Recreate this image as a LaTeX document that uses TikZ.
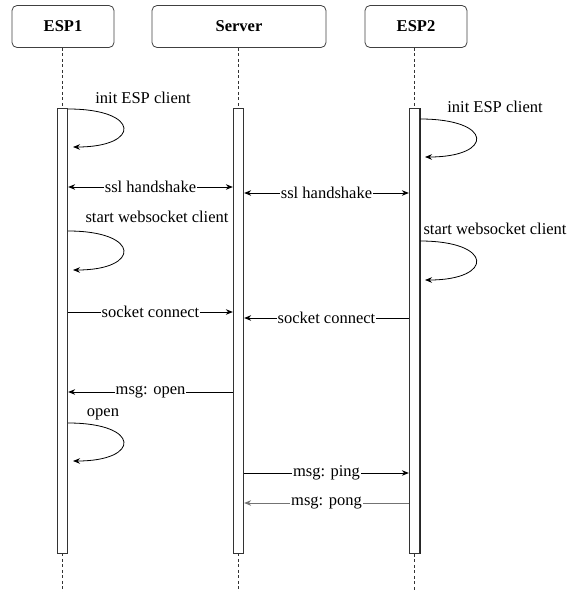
\documentclass[tikz,border=0pt]{standalone}
\usepackage{fontspec}
\setmainfont{Liberation Serif}
\usetikzlibrary{arrows.meta}
\begin{document}
\begin{tikzpicture}[x=1pt,y=-1pt,
  font=\rmfamily\fontsize{16.5}{19}\selectfont,
  header/.style={draw=black!75, line width=0.8pt, rounded corners=5pt,
    minimum height=42pt, inner sep=0pt, font=\rmfamily\fontsize{16.5}{19}\selectfont\bfseries},
  bar/.style={draw=black!80, line width=0.8pt, fill=white, minimum width=10.5pt,
    minimum height=445pt, inner sep=0pt},
  life/.style={black!80, line width=0.7pt, dash pattern=on 3pt off 2.5pt},
  msg/.style={line width=0.8pt, -{Stealth[length=7pt,width=5.5pt]}},
  dmsg/.style={line width=0.8pt, {Stealth[length=7pt,width=5.5pt]}-{Stealth[length=7pt,width=5.5pt]}},
  lbl/.style={fill=white, inner sep=1pt, text=black},
  note/.style={inner sep=0pt, anchor=base}
]
\useasboundingbox (0,0) rectangle (570,592);

% participants
\node[header, minimum width=102pt] (esp1) at (63,26.5) {ESP1};
\node[header, minimum width=174pt] (server) at (239,26.5) {Server};
\node[header, minimum width=102pt] (esp2) at (416,26.5) {ESP2};

% activation bars
\node[bar] (bar1) at (62.5,330.5) {};
\node[bar] (barS) at (238.5,330.5) {};
\node[bar] (bar2) at (414.5,331) {};
\draw[line width=1.2pt, black!85] (bar2.north east) -- (bar2.south east);

% lifelines
\draw[life] (esp1.south -| bar1) -- (bar1.north);
\draw[life] (bar1.south) -- (bar1.south |- 0,592);
\draw[life] (server.south -| barS) -- (barS.north);
\draw[life, line width=1pt] (barS.south) -- (barS.south |- 0,592);
\draw[life] (esp2.south -| bar2) -- (bar2.north);
\draw[life] (bar2.south) -- (bar2.south |- 0,592);

% ESP1 self calls
\node[note] (n1) at (143,103) {init ESP client};
\draw[msg] (bar1.east |- 0,109) .. controls (141,109) and (141,147) .. (73,147);
\node[note] (n2) at (157,222) {start websocket client};
\draw[msg] (bar1.east |- 0,231) .. controls (141,231) and (141,270) .. (73,270);
\node[note] (n3) at (103,416) {open};
\draw[msg] (bar1.east |- 0,423) .. controls (141,423) and (141,461) .. (73,461);

% ESP2 self calls
\node[note] (n4) at (495,112) {init ESP client};
\draw[msg] (bar2.east |- 0,119) .. controls (494,119) and (494,157) .. (425,157);
\node[note] (n5) at (495,234) {start websocket client};
\draw[msg] (bar2.east |- 0,241) .. controls (494,241) and (494,280) .. (425,280);

% handshakes
\draw[dmsg] (bar1.east |- 0,187) -- node[lbl] {ssl handshake} (barS.west |- 0,187);
\draw[dmsg] (barS.east |- 0,193) -- node[lbl] {ssl handshake} (bar2.west |- 0,193);

% socket connections
\draw[msg] (bar1.east |- 0,312) -- node[lbl] {socket connect} (barS.west |- 0,312);
\draw[msg] (bar2.west |- 0,318) -- node[lbl] {socket connect} (barS.east |- 0,318);

% messages
\draw[msg] (barS.west |- 0,392) -- node[lbl] {msg: open} (bar1.east |- 0,392);
\draw[msg] (barS.east |- 0,473) -- node[lbl] {msg: ping} (bar2.west |- 0,473);
\draw[msg, draw=black!55] (bar2.west |- 0,503) -- node[lbl] {msg: pong} (barS.east |- 0,503);
\end{tikzpicture}
\end{document}
